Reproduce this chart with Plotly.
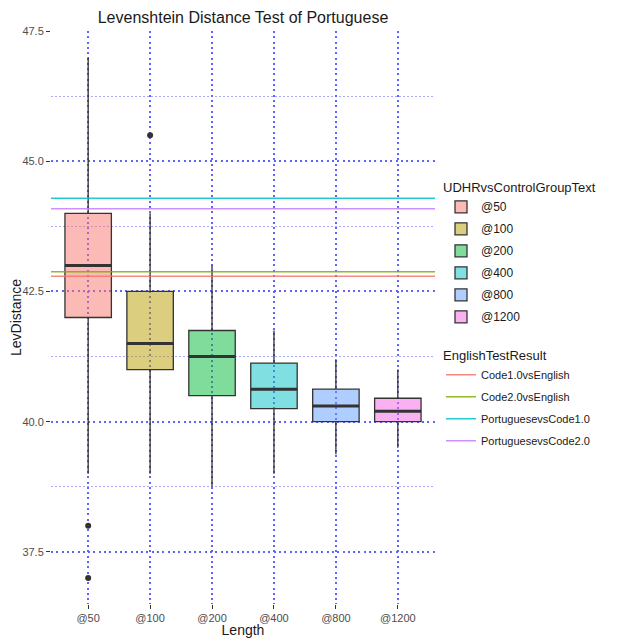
import plotly.graph_objects as go

categories = ["@50", "@100", "@200", "@400", "@800", "@1200"]
q1 = [42.0, 41.0, 40.5, 40.25, 40.0, 40.0]
median = [43.0, 41.5, 41.25, 40.625, 40.3, 40.2]
q3 = [44.0, 42.5, 41.75, 41.125, 40.625, 40.45]
lower_whisker = [39.0, 39.0, 38.75, 39.0, 39.375, 39.5]
upper_whisker = [47.0, 44.0, 43.0, 41.75, 41.2, 41.0]
outlier_group = ["@50", "@50", "@100"]
outlier_values = [38.0, 37.0, 45.5]

box_colors = ["#F8766D", "#B79F00", "#00BA38", "#00BFC4", "#619CFF", "#F564E3"]

line_names = ["Code1.0vsEnglish", "Code2.0vsEnglish", "PortuguesevsCode1.0", "PortuguesevsCode2.0"]
line_values = [42.79, 42.88, 44.29, 44.09]
line_colors = ["#F8766D", "#7CAE00", "#00BFC4", "#C77CFF"]

y_ticks = [37.5, 40.0, 42.5, 45.0, 47.5]

FONT = "Liberation Sans, Arial, Helvetica, sans-serif"


def hex_rgba(h, a):
    h = h.lstrip("#")
    return "rgba(%d,%d,%d,%s)" % (int(h[0:2], 16), int(h[2:4], 16), int(h[4:6], 16), a)


fig = go.Figure()
pos = list(range(1, len(categories) + 1))
bw = 0.75

for i, c in enumerate(categories):
    fig.add_trace(go.Box(
        x=[pos[i]], q1=[q1[i]], median=[median[i]], q3=[q3[i]],
        lowerfence=[lower_whisker[i]], upperfence=[upper_whisker[i]],
        name=c, width=bw, whiskerwidth=0,
        fillcolor=hex_rgba(box_colors[i], 0.5),
        line=dict(color="#333333", width=1.3),
        boxpoints=False, legend="legend", legendgroup="b%d" % i, hoverinfo="skip",
    ))
    # thicker median bar (ggplot fatten)
    fig.add_trace(go.Scatter(
        x=[pos[i] - bw / 2, pos[i] + bw / 2], y=[median[i], median[i]],
        mode="lines", line=dict(color="#333333", width=3),
        showlegend=False, hoverinfo="skip",
    ))

fig.add_trace(go.Scatter(
    x=[pos[categories.index(g)] for g in outlier_group], y=outlier_values,
    mode="markers", marker=dict(color="#333333", size=6),
    showlegend=False, hoverinfo="skip",
))

for j, (n, v, col) in enumerate(zip(line_names, line_values, line_colors)):
    fig.add_trace(go.Scatter(
        x=[0.4, 6.6], y=[v, v], mode="lines", name=n,
        line=dict(color=hex_rgba(col, 0.85), width=1.5),
        legend="legend2", legendgroup="l%d" % j, hoverinfo="skip",
    ))

# page body has an 8px margin, so the figure is sized/offset to compensate
fig.update_layout(
    width=609, height=630,
    margin=dict(l=43, r=182, t=23, b=34, autoexpand=False),
    paper_bgcolor="white", plot_bgcolor="white",
    font=dict(family=FONT, color="#1a1a1a"),
    boxmode="overlay",
    title=dict(text="Levenshtein Distance Test of Portuguese", x=235 / 609, xanchor="center",
               y=1 - 9 / 630, yanchor="middle", font=dict(size=16, color="#1a1a1a")),
    xaxis=dict(
        range=[0.4, 6.6], tickvals=pos, ticktext=categories, automargin=False,
        showgrid=True, gridcolor="#6262ff", griddash="2px,3.3px", gridwidth=1.5,
        zeroline=False, showline=False, ticks="outside", ticklen=4, tickcolor="#333333",
        tickfont=dict(size=11, color="#4d4d4d"), layer="above traces",
        title=dict(text="Length", font=dict(size=14, color="#1a1a1a"), standoff=2),
    ),
    yaxis=dict(
        range=[36.5, 47.5], tickvals=y_ticks, ticktext=["%.1f" % t for t in y_ticks],
        automargin=False,
        showgrid=True, gridcolor="#6262ff", griddash="2px,3.3px", gridwidth=1.5,
        minor=dict(tickvals=[38.75, 41.25, 43.75, 46.25], showgrid=True,
                   gridcolor="#a8a8ff", griddash="1.5px,2.5px", gridwidth=1.2),
        zeroline=False, showline=False, ticks="outside", ticklen=4, tickcolor="#333333",
        tickfont=dict(size=11, color="#4d4d4d"), layer="above traces",
        title=dict(text="LevDistance", font=dict(size=14, color="#1a1a1a"), standoff=4),
    ),
    legend=dict(
        title=dict(text="UDHRvsControlGroupText", font=dict(size=13, color="#1a1a1a")),
        x=(441 - 51) / 384, xanchor="left", y=0.748, yanchor="top",
        font=dict(size=12, color="#1a1a1a"), bgcolor="rgba(0,0,0,0)",
        tracegroupgap=3, itemwidth=30,
    ),
    legend2=dict(
        title=dict(text="EnglishTestResult", font=dict(size=13, color="#1a1a1a")),
        x=(441 - 51) / 384, xanchor="left", y=0.455, yanchor="top",
        font=dict(size=11, color="#1a1a1a"), bgcolor="rgba(0,0,0,0)",
        tracegroupgap=3, itemwidth=30,
    ),
)

fig.write_html("out.html")
